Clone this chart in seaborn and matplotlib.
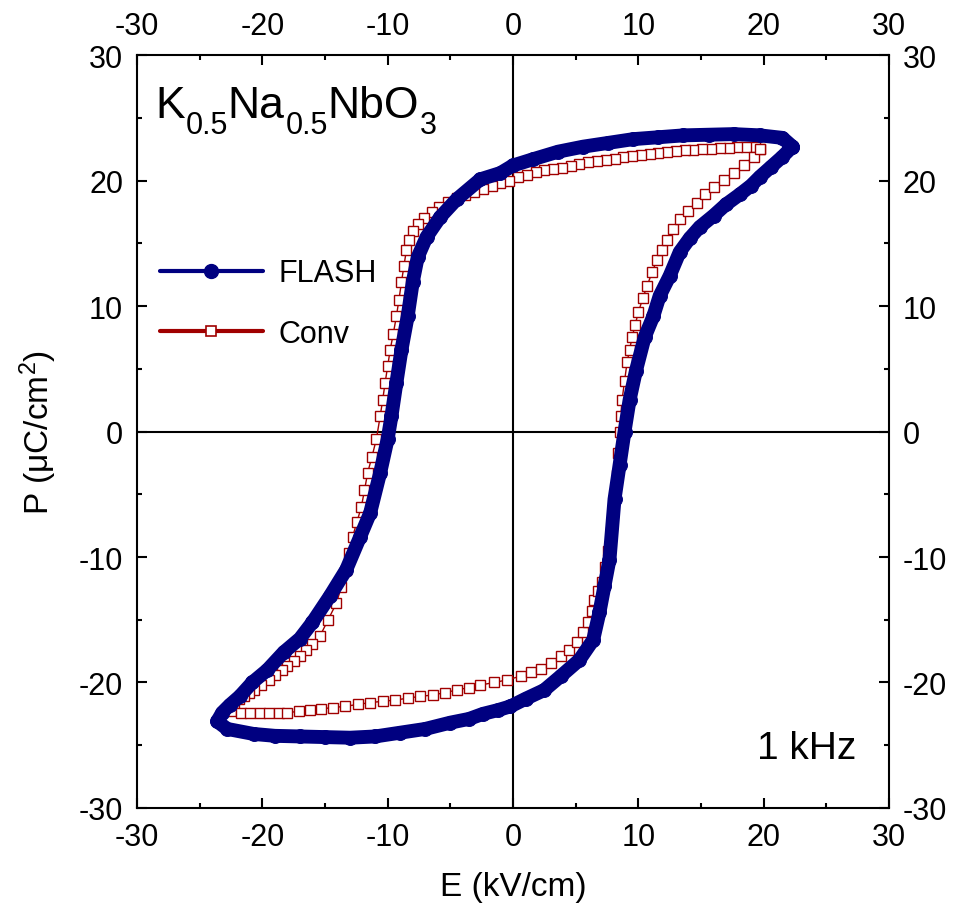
import pandas as pd
import seaborn as sns
import matplotlib.pyplot as plt
from matplotlib.lines import Line2D
from matplotlib.ticker import MultipleLocator


# P-E loop values (E in kV/cm, P in uC/cm^2)
# FLASH sample: upper branch (field going down) then lower branch (field going up)
flash_E = [22.3, 21.5, 19.7, 17.6, 15.6, 13.6, 11.6, 9.6, 7.6, 5.6, 3.6, 1.6, 0.0, -1.0,
           -2.6, -4.5, -5.8, -6.9, -7.6, -8.0, -8.4, -8.9, -9.3, -9.7, -10.0, -10.6,
           -11.4, -12.2, -13.3, -14.6, -16.0, -17.0, -18.3, -19.6, -20.8, -21.8, -22.6,
           -23.2, -23.6,
           -22.8, -20.7, -19.0, -17.0, -15.0, -13.0, -11.0, -9.0, -7.0, -5.0, -3.5, -2.4,
           -1.2, -0.2, 1.0, 2.5, 3.8, 5.3, 6.4, 6.9, 7.3, 7.7, 8.1, 8.5, 8.9, 9.3, 9.8,
           10.5, 11.2, 11.7, 12.5, 13.3, 14.1, 14.9, 16.0, 17.0, 18.1, 19.0, 19.7, 20.6,
           21.5, 22.3]
flash_P = [22.7, 23.4, 23.6, 23.7, 23.65, 23.6, 23.45, 23.3, 23.0, 22.7, 22.3, 21.7, 21.2,
           20.6, 20.1, 18.5, 17.1, 15.5, 13.9, 11.9, 9.2, 6.5, 3.9, 1.2, -0.6, -3.3, -6.5,
           -8.4, -11.0, -13.1, -15.2, -16.5, -17.6, -19.0, -20.0, -21.1, -21.8, -22.4,
           -23.1,
           -23.7, -24.1, -24.25, -24.3, -24.35, -24.4, -24.3, -24.0, -23.7, -23.2, -22.9,
           -22.5, -22.2, -21.9, -21.3, -20.6, -19.5, -18.2, -16.6, -14.4, -12.3, -10.2,
           -5.4, -2.7, 0.0, 2.5, 4.8, 7.5, 9.2, 10.8, 12.4, 14.3, 15.4, 16.3, 17.2, 18.1,
           18.9, 19.6, 20.3, 21.1, 21.9, 22.7]

# Conventional sample, same order
conv_E = [19.7, 19.3, 18.6, 17.9, 17.2, 16.5, 15.8, 15.1, 14.4, 13.7, 13.0, 12.3, 11.6,
          10.9, 10.2, 9.5, 8.8, 8.1, 7.4, 6.7, 6.0, 5.3, 4.6, 3.9, 3.2, 2.5, 1.8, 1.1,
          0.4, -0.3, -1.0, -1.7, -2.4, -3.1, -3.8, -4.5, -5.2, -5.9, -6.5, -7.1, -7.6,
          -8.0, -8.3, -8.5, -8.7, -8.9, -9.1, -9.3, -9.55, -9.8, -10.0, -10.2, -10.4,
          -10.6, -10.9, -11.25, -11.6, -11.85, -12.1, -12.45, -12.8, -13.05, -13.3,
          -13.7, -14.1, -14.75, -15.4, -16.0, -16.5, -17.0, -17.5, -18.0, -18.4, -19.0,
          -19.5, -20.1, -20.7, -21.1, -21.5, -21.9, -22.3, -22.5,
          -21.7, -21.0, -20.2, -19.5, -18.7, -18.0, -17.1, -16.2, -15.3, -14.4, -13.4,
          -12.4, -11.4, -10.4, -9.4, -8.4, -7.4, -6.4, -5.4, -4.5, -3.5, -2.6, -1.5,
          -0.5, 0.6, 1.4, 2.2, 3.0, 3.8, 4.5, 5.1, 5.6, 6.0, 6.3, 6.5, 6.8, 7.1, 7.35,
          7.6, 7.8, 8.0, 8.15, 8.3, 8.4, 8.5, 8.6, 8.7, 8.9, 9.1, 9.3, 9.5, 9.75, 10.0,
          10.35, 10.7, 11.1, 11.5, 11.9, 12.3, 12.8, 13.3, 14.0, 14.7, 15.35, 16.0,
          16.8, 17.6, 18.4, 19.2, 19.7]
conv_P = [22.5, 22.7, 22.7, 22.65, 22.6, 22.6, 22.55, 22.5, 22.45, 22.4, 22.35, 22.3,
          22.2, 22.1, 22.05, 21.95, 21.85, 21.75, 21.65, 21.55, 21.45, 21.3, 21.15, 21.0,
          20.9, 20.8, 20.65, 20.45, 20.25, 20.0, 19.8, 19.6, 19.35, 19.1, 18.85, 18.6,
          18.3, 17.9, 17.5, 17.0, 16.5, 16.0, 15.3, 14.5, 13.2, 11.9, 10.5, 9.2, 7.8,
          6.5, 5.2, 3.9, 2.5, 1.2, -0.6, -2.0, -3.3, -4.7, -6.0, -7.2, -8.4, -9.7,
          -11.0, -12.4, -13.7, -15.0, -16.3, -16.9, -17.4, -17.9, -18.3, -18.7, -19.0,
          -19.4, -19.8, -20.2, -20.6, -20.85, -21.1, -21.35, -21.6, -22.3,
          -22.4, -22.4, -22.4, -22.4, -22.4, -22.4, -22.3, -22.2, -22.1, -22.0, -21.9,
          -21.75, -21.6, -21.5, -21.4, -21.25, -21.1, -21.0, -20.8, -20.6, -20.4, -20.2,
          -20.0, -19.8, -19.5, -19.2, -18.9, -18.45, -17.9, -17.4, -16.8, -16.0, -15.2,
          -14.3, -13.4, -12.7, -12.0, -10.8, -9.5, -8.0, -6.5, -5.0, -3.5, -1.7, 0.0,
          1.2, 2.5, 4.0, 5.5, 6.5, 7.5, 8.5, 9.5, 10.6, 11.6, 12.7, 13.7, 14.5, 15.3,
          16.1, 16.9, 17.6, 18.2, 18.9, 19.5, 20.05, 20.6, 21.25, 21.9, 22.5]

# composition label, split into (text, is_subscript) pieces
formula_parts = [('K', False), ('0.5', True), ('Na', False), ('0.5', True),
                 ('NbO', False), ('3', True)]

flash_df = pd.DataFrame({'E': flash_E, 'P': flash_P})
conv_df = pd.DataFrame({'E': conv_E, 'P': conv_P})

blue = '#000080'
red = '#A00000'

sns.set_style('ticks')
plt.rcParams['font.family'] = ['Liberation Sans', 'DejaVu Sans']
plt.rcParams['mathtext.fontset'] = 'custom'
plt.rcParams['mathtext.rm'] = 'Liberation Sans'
plt.rcParams['mathtext.default'] = 'regular'
plt.rcParams['axes.unicode_minus'] = False
for key in ['text.color', 'axes.labelcolor', 'xtick.color', 'ytick.color', 'axes.edgecolor']:
    plt.rcParams[key] = 'black'

fig = plt.figure(figsize=(9.56, 9.04), dpi=100)
ax = fig.add_axes([0.1433, 0.1051, 0.7866, 0.8329])

ax.axhline(0, color='black', lw=1.5, zorder=1)
ax.axvline(0, color='black', lw=1.5, zorder=1)

# conv first, FLASH sits on top of it
sns.lineplot(data=conv_df, x='E', y='P', sort=False, estimator=None, ax=ax,
             color=red, lw=1.0, marker='s', ms=7, mfc='white', mec=red, mew=1.0,
             zorder=2)
sns.lineplot(data=flash_df, x='E', y='P', sort=False, estimator=None, ax=ax,
             color=blue, lw=10, marker='o', ms=10, mfc=blue, mec=blue,
             solid_capstyle='round', solid_joinstyle='round', zorder=3)

ax.set_xlim(-30, 30)
ax.set_ylim(-30, 30)
ax.xaxis.set_major_locator(MultipleLocator(10))
ax.xaxis.set_minor_locator(MultipleLocator(5))
ax.yaxis.set_major_locator(MultipleLocator(10))
ax.yaxis.set_minor_locator(MultipleLocator(5))
ax.tick_params(which='both', direction='in', top=True, right=True,
               labeltop=True, labelright=True, width=1.5, labelsize=22, pad=10)
ax.tick_params(which='major', length=7)
ax.tick_params(which='minor', length=3.5)
for s in ax.spines.values():
    s.set_linewidth(1.5)

ax.set_xlabel('E (kV/cm)', fontsize=24, labelpad=14)
ax.set_ylabel('P (μC/cm$^2$)', fontsize=24, labelpad=14)

# formula: each piece placed right after the previous one, subscripts dropped
y_base = 0.918
prev = ax.text(0.024, y_base, formula_parts[0][0], transform=ax.transAxes,
               fontsize=32, ha='left', va='baseline')
for txt, is_sub in formula_parts[1:]:
    prev = ax.annotate(txt, xy=(1, y_base), xycoords=(prev, 'axes fraction'),
                       xytext=(0.5 if is_sub else 0, -12 if is_sub else 0),
                       textcoords='offset points', fontsize=22 if is_sub else 32,
                       ha='left', va='baseline')

ax.text(0.957, 0.066, '1 kHz', transform=ax.transAxes,
        fontsize=28, ha='right', va='baseline')

handles = [Line2D([], [], color=blue, lw=3, marker='o', ms=10, mfc=blue, mec=blue),
           Line2D([], [], color=red, lw=3, marker='s', ms=7, mfc='white', mec=red, mew=1.2)]
ax.legend(handles, ['FLASH', 'Conv'], loc='upper left', bbox_to_anchor=(0.03, 0.73),
          frameon=False, fontsize=22, handlelength=3.4, handletextpad=0.5,
          labelspacing=1.0, borderpad=0, borderaxespad=0)

fig.savefig('out.png', dpi=100)
